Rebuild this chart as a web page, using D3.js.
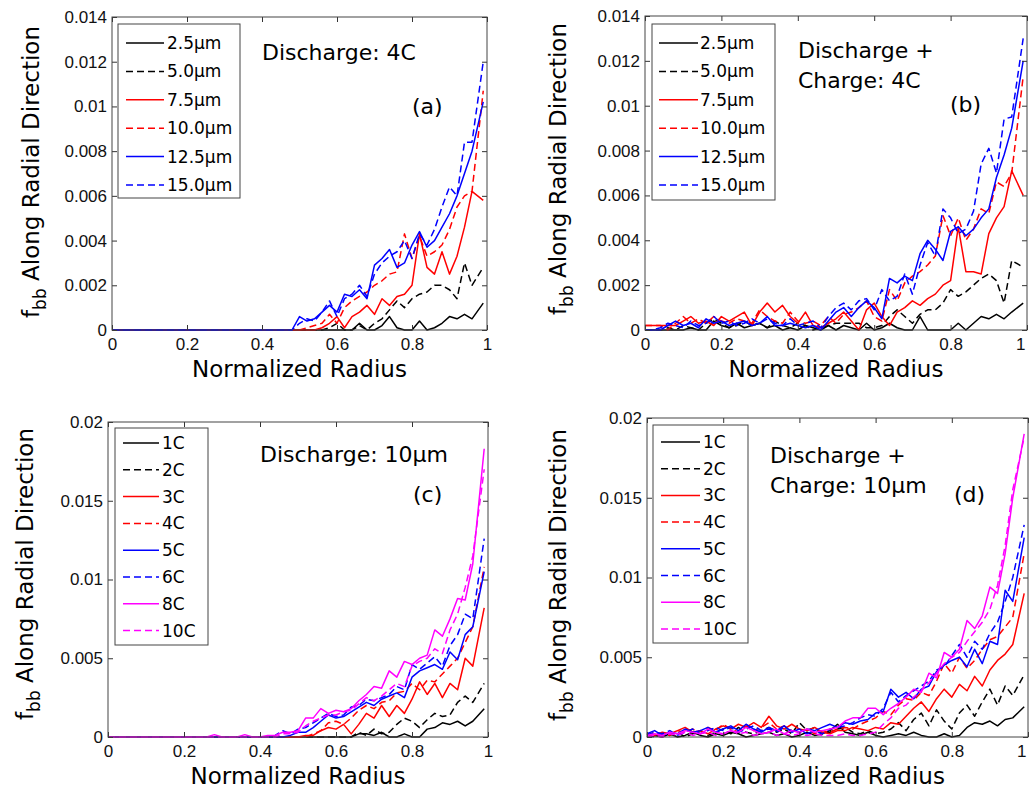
<!DOCTYPE html>
<meta charset="utf-8">
<style>
 body { margin: 0; background: #fff; }
 svg { display: block; font-family: "DejaVu Sans", sans-serif; }
 .axis .domain { display: none; }
 .axis line { stroke: #333; }
 .axis text { font-size: 17px; fill: #111; }
</style>
<body>
<script src="https://cdn.jsdelivr.net/npm/d3@7"></script>
<script>

// shared x grid (normalized radius)
var radius = [0,0.02,0.04,0.06,0.08,0.1,0.12,0.14,0.16,0.18,
              0.2,0.22,0.24,0.26,0.28,0.3,0.32,0.34,0.36,0.38,
              0.4,0.42,0.44,0.46,0.48,0.5,0.52,0.54,0.56,0.58,
              0.6,0.62,0.64,0.66,0.68,0.7,0.72,0.74,0.76,0.78,
              0.8,0.82,0.84,0.86,0.88,0.9,0.92,0.94,0.96,0.99];

// all f_bb values below are in units of 1e-3

// (a) Discharge 4C, by particle size
var a_2p5 = [0,0,0,0,0,0,0,0,0,0, 0,0,0,0,0,0,0,0,0,0, 0,0,0,0,0,
             0,0,0,0,0,0,0,0,0.3,0,0,0.2,0.6,0.1,0,0,0.4,0,0.1,0.3,0.6,0.5,0.7,0.5,1.2];
var a_5p0 = [0,0,0,0,0,0,0,0,0,0, 0,0,0,0,0,0,0,0,0,0, 0,0,0,0,0,
             0,0,0,0,0.1,0.3,0,0,0.2,0,0.3,0.5,0.9,1.3,1.0,1.4,1.6,1.7,2.0,2.0,1.8,1.4,3.0,2.0,2.8];
var a_7p5 = [0,0,0,0,0,0,0,0,0,0, 0,0,0,0,0,0,0,0,0,0, 0,0,0,0,0,
             0,0,0,0.1,0.3,0.6,0.1,0.6,0.8,1.1,0.7,1.4,1.1,1.5,1.6,2.0,4.3,2.8,2.5,3.5,2.5,3.3,4.6,6.2,5.8];
var a_10p0 = [0,0,0,0,0,0,0,0,0,0, 0,0,0,0,0,0,0,0,0,0, 0,0,0,0,0,
              0,0.1,0.2,0.3,0.7,0.3,1.0,1.3,1.5,1.7,2.0,2.2,2.5,2.6,4.3,3.2,4.2,3.3,3.5,3.8,4.5,5.5,6.0,6.2,10.7];
var a_12p5 = [0,0,0,0,0,0,0,0,0,0, 0,0,0,0,0,0,0,0,0,0, 0,0,0,0,0,
              0.6,0.4,0.5,0.8,1.1,0.8,1.6,1.5,1.8,1.4,2.9,3.2,3.6,2.8,3.0,3.8,4.4,3.7,4.0,4.6,5.2,6.0,7.0,8.0,10.2];
var a_15p0 = [0,0,0,0,0,0,0,0,0,0, 0,0,0,0,0,0,0,0,0,0, 0,0,0,0,0,
              0.3,0.5,0.4,0.8,1.3,0.6,1.4,1.6,2.0,1.5,2.5,3.0,3.3,3.5,4.0,3.2,4.3,3.8,4.5,5.5,6.4,6.0,8.4,8.4,12.0];

// (b) Discharge + Charge 4C, by particle size
var b_2p5 = [0,0,0,0,0,0,0.1,0,0,0.4, 0.2,0.1,0.3,0.1,0.2,0.3,0.1,0.2,0,0.1,
             0,0.2,0.1,0,0.2,0,0.2,0.1,0,0.3, 0,0.1,0.3,0.1,0,0,0.6,0,0,0,
             0,0.3,0,0.3,0.6,0.5,0.7,0.5,0.8,1.2];
var b_5p0 = [0,0,0,0.1,0,0.2,0.1,0,0.3,0.5, 0.3,0.1,0.2,0.4,0.2,0.3,0.1,0.4,0.2,0.1,
             0.3,0.2,0,0.1,0.2,0.3,0.3,0.3,0.3,0.1, 0.1,0.2,0.6,0.9,0.6,0.3,0.7,0.9,0.9,1.2,
             1.8,1.5,1.7,2.0,2.3,2.5,2.2,1.2,3.1,2.8];
var b_7p5 = [0.2,0.2,0.2,0.2,0.2,0.4,0.6,0.3,0.4,0.2, 0.6,0.4,0.6,0.8,0.2,0.8,1.2,0.8,1.1,0.6,
             0.3,0.8,0.2,0.1,0.3,0.5,0.8,0.4,0,0.9, 1.2,0.6,0.2,0.8,1.0,1.3,1.1,1.4,1.6,2.0,
             2.2,4.6,2.6,2.6,2.5,4.3,5.0,5.5,7.1,6.0];
var b_10p0 = [0.2,0.2,0.2,0,0.3,0.6,0.3,0.5,0.3,0.6, 0.4,0.3,0.5,0.4,0.3,0.9,0.6,0.4,0.3,0.8,
              0.4,0.3,0.4,0.2,0.6,0.3,0.7,0.8,1.0,1.3, 0.6,0.4,1.8,1.3,2.1,2.4,2.6,2.9,3.3,5.1,
              4.2,5.0,4.0,4.5,5.4,5.2,6.6,6.4,7.0,11.3];
var b_12p5 = [0,0,0,0.2,0.4,0.2,0.3,0.1,0.5,0.3, 0.4,0.2,0.3,0.4,0.2,0.3,0.6,0.2,0.2,0.3,
              0.2,0.1,0.2,0,0.4,0.8,1.0,0.6,1.0,1.3, 1.0,0.5,2.3,2.1,2.4,2.2,3.4,4.0,3.6,3.1,
              4.4,4.6,4.2,4.5,5.0,5.4,6.8,7.8,9.0,12.0];
var b_15p0 = [0,0,0.1,0.3,0.2,0.1,0.4,0.2,0.3,0.6, 0.3,0.4,0.2,0.3,0.5,0.3,0.5,0.3,0.2,0.5,
              0.2,0.3,0.4,0.1,0.6,1.0,1.2,0.9,1.3,1.4, 0.9,1.8,1.3,1.5,2.5,1.6,2.9,3.9,3.3,5.4,
              5.0,4.3,4.5,5.3,7.4,8.1,7.0,9.4,9.5,13.0];

// (c) Discharge 10um, by C-rate
var c_1C = [0,0,0,0,0,0,0,0,0,0, 0,0,0,0,0,0,0,0,0,0, 0,0,0,0,0,0,0,0,0,0, 0,0,0,
            0.2,0.2,0.1,0.3,0,0,0.2,0,0,0.5,0.6,0.9,0.8,1.0,0.7,1.0,1.8];
var c_2C = [0,0,0,0,0,0,0,0,0,0, 0,0,0,0,0,0,0,0,0,0, 0,0,0,0,0,0,0,0,0,0, 0,0,0,
            0.3,0.1,0.5,0.2,0.3,0.8,1.2,1.0,0.6,1.1,1.5,1.3,1.4,2.2,2.6,2.2,3.4];
var c_3C = [0,0,0,0,0,0,0,0,0,0, 0,0,0,0,0,0,0,0,0,0, 0,0,0,0,0,0,
            0.1,0.1,0.4,0.6,0.5,0.8,0.2,0.8,1.5,1.2,2.0,1.3,2.0,1.5,2.4,3.5,2.7,3.4,2.5,3.4,3.0,5.0,4.5,8.2];
var c_4C = [0,0,0,0,0,0,0,0,0,0, 0,0,0,0,0,0,0,0,0,0, 0,0,0,0,0,0,0,
            0.2,0.4,0.9,1.0,0.8,1.2,1.7,2.0,1.8,2.2,2.3,2.8,2.9,3.4,3.0,3.6,3.5,4.0,4.5,5.0,6.0,7.0,10.8];
var c_5C = [0,0,0,0,0,0,0,0,0,0, 0,0,0,0,0,0,0,0,0,0, 0,0,0,0,
            0.1,0.3,0.3,0.6,1.0,1.4,1.2,1.3,1.6,1.9,2.2,2.0,2.4,2.6,2.8,2.5,3.8,4.2,4.4,4.6,4.3,5.4,4.9,6.5,7.0,10.5];
var c_6C = [0,0,0,0,0,0,0,0,0,0, 0,0,0,0,0,0,0,0,0,0, 0,0,
            0.1,0.4,0.2,0.5,0.6,0.9,1.2,1.5,1.3,1.4,1.9,2.0,2.4,2.3,2.5,2.7,3.2,3.0,4.6,4.3,4.7,5.1,4.5,5.8,6.5,7.8,7.5,12.6];
var c_8C = [0,0,0,0,0,0,0,0,0,0, 0,0,0,0,
            0.15,0,0,0,0.15,0,0,0.1,0.1,0.3,0.3,0.4,1.2,1.2,1.8,1.5,1.7,1.6,1.8,2.3,2.7,3.2,3.1,4.2,3.8,4.8,
            4.6,5.0,5.2,6.8,6.4,7.5,8.8,8.7,11.0,18.3];
var c_10C = [0,0,0,0,0,0,0,0,0,0, 0,0,0,0,0,0,0,0,0,0, 0,0,0,
             0.2,0.2,0.3,0.7,1.0,1.2,1.4,1.4,1.6,1.7,2.1,2.5,2.3,2.6,3.0,3.4,3.2,4.5,4.8,5.0,5.6,5.3,6.8,7.8,9.5,11.5,17.0];

// (d) Discharge + Charge 10um, by C-rate
var d_1C = [0,0.1,0,0.2,0,0.1,0.3,0.1,0,0.2, 0.1,0.3,0.2,0,0.1,0.2,0.3,0.1,0.2,0,
            0.1,0.3,0.1,0.2,0.4,0.8,0.3,0.2,0.1,0.3, 0.1,0,0.1,0.2,0.1,0.3,0.1,0,0,0.2,
            0,0.1,0.6,0.9,0.8,1.0,0.7,1.1,1.2,1.9];
var d_2C = [0.1,0,0.2,0.1,0.3,0,0.2,0.4,0.1,0.3, 0.5,0.2,0.6,0.3,0.2,0.4,0.6,0.3,0.5,0.2,
            0.9,0.4,0.6,0.2,0.3,0.5,0.6,0.3,0.2,0.4, 0.2,0.3,0.5,0.9,0.4,1.1,1.5,0.7,1.7,1.0,
            0.5,1.5,2.0,1.3,2.2,3.0,2.0,3.2,2.6,3.9];
var d_3C = [0.2,0.1,0.3,0.2,0.4,0.6,0.3,0.4,0.2,0.5, 0.7,0.5,0.8,0.6,0.9,0.6,1.3,0.7,0.5,0.8,
            0.5,0.4,0.6,0.3,0.2,0.4,0.4,0.6,0.5,0.4, 0.6,0.5,0.9,0.8,1.3,1.8,2.2,1.6,2.4,3.0,
            2.5,3.3,2.9,3.8,3.2,4.2,4.8,5.2,5.8,9.0];
var d_4C = [0.1,0.3,0.2,0.1,0.4,0.3,0.5,0.2,0.6,0.4, 0.8,0.5,0.3,0.7,0.4,0.6,0.9,0.5,0.7,0.4,
            0.3,0.5,0.2,0.4,0.3,0.5,0.6,0.5,0.8,1.0, 1.2,1.6,1.4,2.0,2.4,2.3,2.8,2.6,3.5,4.6,
            4.0,5.0,4.3,4.8,5.5,6.1,6.3,6.9,7.5,11.5];
var d_5C = [0.2,0.4,0.1,0.3,0.2,0.5,0.3,0.4,0.6,0.3, 0.5,0.7,0.4,0.8,0.5,0.3,0.6,0.4,0.7,0.3,
            0.5,0.2,0.4,0.6,0.8,0.6,0.9,0.8,1.0,1.1, 1.5,1.6,3.0,2.5,2.8,2.4,3.0,3.2,4.1,4.5,
            4.8,5.0,4.4,5.5,4.6,6.0,5.8,9.2,8.5,12.5];
var d_6C = [0.1,0.3,0.2,0.4,0.1,0.3,0.5,0.2,0.4,0.6, 0.4,0.6,0.3,0.5,0.7,0.4,0.5,0.3,0.6,0.4,
            0.3,0.5,0.4,0.2,0.5,0.6,0.7,0.9,1.2,1.4, 1.3,1.8,2.8,2.2,2.6,2.9,3.2,3.5,4.2,4.4,
            5.1,5.8,5.0,6.0,5.5,6.5,7.2,8.5,10.0,13.3];
var d_8C = [0.1,0.2,0.1,0.3,0.2,0.4,0.3,0.2,0.5,0.3, 0.2,0.4,0.3,0.6,0.4,0.2,0.3,0.5,0.2,0.4,
            0.3,0.5,0.3,0.4,0.5,0.6,1.0,1.2,1.2,1.8, 1.8,1.4,1.8,2.1,2.5,3.0,2.8,4.0,3.7,5.3,
            5.0,5.5,7.3,6.8,7.6,9.4,9.0,11.5,15.0,19.0];
var d_10C = [0,0.1,0,0.2,0.1,0.3,0.1,0.2,0.3,0.1, 0.2,0.4,0.2,0.3,0.1,0.2,0.3,0.1,0.2,0.1,
             0.2,0.1,0.2,0.1,0.1,0.1,0.2,0.1,0.1,0.2, 0.3,0.8,1.2,1.8,2.0,2.5,2.9,3.4,4.0,4.6,
             5.0,5.3,6.0,6.6,7.2,8.0,9.5,12.0,15.5,18.8];

var sizeLabels = ["2.5\u03bcm", "5.0\u03bcm", "7.5\u03bcm", "10.0\u03bcm", "12.5\u03bcm", "15.0\u03bcm"];
var rateLabels = ["1C", "2C", "3C", "4C", "5C", "6C", "8C", "10C"];
var sizeColors = ["#000", "#000", "#f00", "#f00", "#00f", "#00f"];
var rateColors = ["#000", "#000", "#f00", "#f00", "#00f", "#00f", "#f0f", "#f0f"];
var xTicks = [0, 0.2, 0.4, 0.6, 0.8, 1];
var yTicksSmall = [0, 0.002, 0.004, 0.006, 0.008, 0.01, 0.012, 0.014];
var yTicksLarge = [0, 0.005, 0.01, 0.015, 0.02];

var panels = [
    { box: [112, 17, 487, 330], ymax: 0.014, yTicks: yTicksSmall,
      series: [a_2p5, a_5p0, a_7p5, a_10p0, a_12p5, a_15p0], labels: sizeLabels, colors: sizeColors,
      note: ["Discharge: 4C"], noteX: 262, noteY: 60, tag: "(a)", tagX: 412, tagY: 114,
      leg: { x: 118, y: 24, w: 122, h: 174, r0: 43, step: 28.4, l0: 126, l1: 164, tx: 167 },
      ylx: 39, yly: 172 },
    { box: [645, 16, 1027, 330], ymax: 0.014, yTicks: yTicksSmall,
      series: [b_2p5, b_5p0, b_7p5, b_10p0, b_12p5, b_15p0], labels: sizeLabels, colors: sizeColors,
      note: ["Discharge +", "Charge: 4C"], noteX: 798, noteY: 58, tag: "(b)", tagX: 950, tagY: 112,
      leg: { x: 652, y: 24, w: 123, h: 176, r0: 43, step: 28.4, l0: 659, l1: 698, tx: 700 },
      ylx: 566, yly: 169 },
    { box: [108, 422, 488, 737], ymax: 0.02, yTicks: yTicksLarge,
      series: [c_1C, c_2C, c_3C, c_4C, c_5C, c_6C, c_8C, c_10C], labels: rateLabels, colors: rateColors,
      note: ["Discharge: 10\u03bcm"], noteX: 260, noteY: 462, tag: "(c)", tagX: 413, tagY: 502,
      leg: { x: 115, y: 428, w: 93, h: 217, r0: 443, step: 26.8, l0: 123, l1: 159, tx: 162 },
      ylx: 33, yly: 574 },
    { box: [647, 418, 1028, 737], ymax: 0.02, yTicks: yTicksLarge,
      series: [d_1C, d_2C, d_3C, d_4C, d_5C, d_6C, d_8C, d_10C], labels: rateLabels, colors: rateColors,
      note: ["Discharge +", "Charge: 10\u03bcm"], noteX: 770, noteY: 463, tag: "(d)", tagX: 954, tagY: 502,
      leg: { x: 653, y: 425, w: 95, h: 218, r0: 442, step: 26.7, l0: 661, l1: 700, tx: 703 },
      ylx: 566, yly: 575 }
];

function fmt(v) {
    return v === 0 ? "0" : String(+v.toFixed(3));
}

var svg = d3.select("body").append("svg")
    .attr("width", 1029)
    .attr("height", 789);

panels.forEach(function(p) {
    var left = p.box[0], top = p.box[1], right = p.box[2], bottom = p.box[3];
    var x = d3.scaleLinear().domain([0, 1]).range([left, right]);
    var y = d3.scaleLinear().domain([0, p.ymax]).range([bottom, top]);
    var g = svg.append("g");

    // lines
    var line = d3.line()
        .x(function(d, i) { return x(radius[i]); })
        .y(function(d) { return y(d * 1e-3); });

    p.series.forEach(function(s, k) {
        g.append("path")
         .datum(s)
         .attr("fill", "none")
         .attr("stroke", p.colors[k])
         .attr("stroke-width", 1.5)
         .attr("stroke-linejoin", "round")
         .attr("stroke-dasharray", k % 2 ? "7,4" : null)
         .attr("d", line);
    });

    // axes (ticks pointing inward, MATLAB style)
    var gx = g.append("g").attr("class", "axis")
        .attr("transform", "translate(0," + bottom + ")")
        .call(d3.axisBottom(x).tickValues(xTicks).tickFormat(fmt)
              .tickSizeInner(-5).tickSizeOuter(0).tickPadding(8));
    // right-edge panels: keep the "1" label inside the picture
    if (right > 1020) {
        gx.selectAll(".tick text")
          .filter(function(d) { return d === 1; })
          .attr("text-anchor", "end")
          .attr("dx", -2);
    }
    g.append("g").attr("class", "axis")
        .attr("transform", "translate(0," + top + ")")
        .call(d3.axisTop(x).tickValues(xTicks).tickFormat("")
              .tickSizeInner(-5).tickSizeOuter(0));
    g.append("g").attr("class", "axis")
        .attr("transform", "translate(" + left + ",0)")
        .call(d3.axisLeft(y).tickValues(p.yTicks).tickFormat(fmt)
              .tickSizeInner(-5).tickSizeOuter(0).tickPadding(5));
    g.append("g").attr("class", "axis")
        .attr("transform", "translate(" + right + ",0)")
        .call(d3.axisRight(y).tickValues(p.yTicks).tickFormat("")
              .tickSizeInner(-5).tickSizeOuter(0));

    g.append("rect")
        .attr("x", left).attr("y", top)
        .attr("width", right - left).attr("height", bottom - top)
        .attr("fill", "none").attr("stroke", "#444").attr("stroke-width", 1);

    // axis titles
    g.append("text")
        .attr("x", (left + right) / 2).attr("y", bottom + 47)
        .attr("text-anchor", "middle")
        .style("font-size", "23px")
        .text("Normalized Radius");

    var yl = g.append("text")
        .attr("transform", "translate(" + p.ylx + "," + p.yly + ") rotate(-90)")
        .attr("text-anchor", "middle")
        .style("font-size", "23px");
    yl.append("tspan").text("f");
    yl.append("tspan").attr("dy", 7).style("font-size", "17px").text("bb");
    yl.append("tspan").attr("dy", -7).text(" Along Radial Direction");

    // legend
    var L = p.leg;
    g.append("rect")
        .attr("x", L.x).attr("y", L.y).attr("width", L.w).attr("height", L.h)
        .attr("fill", "#fff").attr("stroke", "#444").attr("stroke-width", 1);
    p.labels.forEach(function(lab, k) {
        var ry = L.r0 + k * L.step;
        g.append("line")
         .attr("x1", L.l0).attr("x2", L.l1).attr("y1", ry).attr("y2", ry)
         .attr("stroke", p.colors[k]).attr("stroke-width", 1.5)
         .attr("stroke-dasharray", k % 2 ? "7,4" : null);
        g.append("text")
         .attr("x", L.tx).attr("y", ry + 6)
         .style("font-size", "17px")
         .text(lab);
    });

    // annotations
    p.note.forEach(function(t, k) {
        g.append("text")
         .attr("x", p.noteX).attr("y", p.noteY + k * 30)
         .style("font-size", "22px")
         .text(t);
    });
    g.append("text")
        .attr("x", p.tagX).attr("y", p.tagY)
        .style("font-size", "22px")
        .text(p.tag);
});

</script>
</body>
